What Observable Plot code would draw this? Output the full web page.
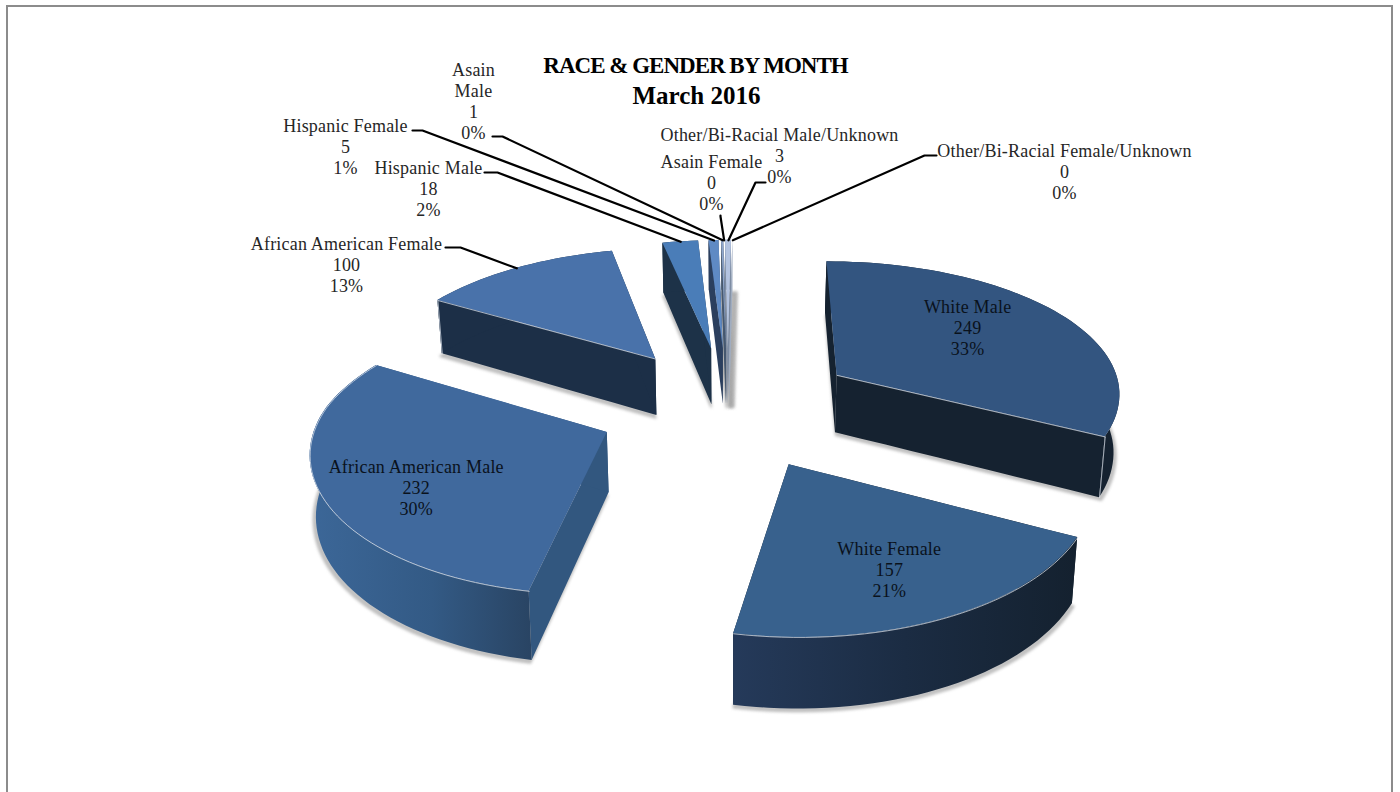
<!DOCTYPE html>
<html><head><meta charset="utf-8">
<script src="https://cdn.jsdelivr.net/npm/d3@7"></script>
<script src="https://cdn.jsdelivr.net/npm/@observablehq/plot@0.6"></script>
<style>
html,body{margin:0;background:#fff}
svg{display:block}
.lbl text{letter-spacing:.2px}
.ttl text{letter-spacing:-1px}
</style></head><body><div id="chart"></div>
<script>
const categories = ["White Male","White Female","African American Male","African American Female","Hispanic Male","Hispanic Female","Asain Male","Asain Female","Other/Bi-Racial Male/Unknown","Other/Bi-Racial Female/Unknown"];
const counts = [249,157,232,100,18,5,1,0,3,0];
const percents = [33,21,30,13,2,1,0,0,0,0];
const titleLine1 = "RACE & GENDER BY MONTH";
const titleLine2 = "March 2016";

const topColors = ["#335580","#38618d","#40699d","#4972aa","#4a7db8","#5f8ac4","#8fa6cc","#a4b6d8","#b3c3e0","#c6d2e8"];
const wallColors = ["#152230","#16232f","#32577f","#1c2f47","#1d3248","#2b3f5e","#46586f","#5a6a80","#7d8ca3","#a0adc0"];
const arcFills = ["#152230","url(#wfArc)","url(#aamArc)","#1c2f47","#1d3248","#2b3f5e","#46586f","#5a6a80","#7d8ca3","#a0adc0"];
const paintOrder = [7,6,9,8,5,4,3,0,2,1];

// callout layout: label centre, then the elbow of its leader
const callouts = new Map([
  ["African American Female",{x:346,y:264,from:[445,247],elbow:[460,247]}],
  ["Hispanic Male",{x:428,y:188,from:[484,172],elbow:[497,172]}],
  ["Hispanic Female",{x:345,y:146,from:[412,130],elbow:[422,130]}],
  ["Asain Male",{x:473,y:100,from:[492,136],elbow:[502,136]}],
  ["Asain Female",{x:711,y:182,from:[720,215],elbow:[720,216]}],
  ["Other/Bi-Racial Male/Unknown",{x:779,y:155,from:[765,182],elbow:[755,182]}],
  ["Other/Bi-Racial Female/Unknown",{x:1064,y:171,from:[936,155],elbow:[924,155]}]
]);
// labels inside a slice: radius and angle offset from the slice's bisector
const insideLabels = new Map([
  ["White Male",{r:0.64,turn:-0.12}],
  ["White Female",{r:0.7,turn:0.03}],
  ["African American Male",{r:0.71,turn:-0.12}]
]);

// pie geometry: a perspective view of an exploded unit pie
const view = {cx:728,cy:406,R:287,B:135,D:8,H:59,explode:0.455,shrink:0.985};
const total = d3.sum(counts);
const rad = d => d*Math.PI/180;
function topPt(X,Y){
  const s=1/(1-Y/view.D);
  const skew=Y>0?Y*(2-3*X):(X>0?4*X*(-Y):3*(-Y));
  return [view.cx+view.R*X*s+skew,view.cy+view.B*Y*s];
}
function botPt(X,Y){const s=1/(1-Y/view.D);const [x,y]=topPt(X,Y);return [view.cx+(x-view.cx)*view.shrink,y+view.H*s];}

let acc=0;
const slices = categories.map((name,i)=>{
  const a0=acc/total*2*Math.PI; acc+=counts[i]; const a1=acc/total*2*Math.PI; const m=(a0+a1)/2;
  const tx=view.explode*Math.sin(m), ty=-view.explode*Math.cos(m);
  const pt=(r,a)=>[tx+r*Math.sin(a),ty-r*Math.cos(a)];
  const n=Math.max(2,Math.ceil((a1-a0)/rad(2)));
  const arc=d3.range(n+1).map(k=>pt(1,a0+(a1-a0)*k/n));
  return {name,i,a0,a1,m,tip:[tx,ty],pt,arc};
});
const band=(pts,f,g)=>pts.map(p=>{const [x1,y1]=f(p),[x2,y2]=g(p);return {x1,y1,x2,y2};});
const surf=(rows,fill,extra={})=>Plot.area(rows,{x1:"x1",y1:"y1",x2:"x2",y2:"y2",fill,curve:"linear",...extra});
const P=f=>p=>f(p[0],p[1]);
const segment=(s,q)=>d3.range(11).map(k=>[s.tip[0]+(q[0]-s.tip[0])*k/10,s.tip[1]+(q[1]-s.tip[1])*k/10]);

const shadowMarks=[],bodyMarks=[];
for(const idx of paintOrder){
  const s=slices[idx];
  const tiny=counts[idx]<10;
  const out=p=>{const [x,y]=botPt(p[0],p[1]);return [view.cx+(x-view.cx)*1.006+(tiny?4:0),y+3];};
  shadowMarks.push(surf(band(s.arc,()=>out(s.tip),out),"#8a8a8a",{fillOpacity:0.5,stroke:"#8a8a8a",strokeWidth:tiny?3:1.5,strokeOpacity:0.5,imageFilter:"blur(1.5px)"}));
  const qs=s.arc[0],qe=s.arc[s.arc.length-1];
  const wallCol=wallColors[idx];
  bodyMarks.push(surf(band(segment(s,qs),P(topPt),P(botPt)),wallCol));
  bodyMarks.push(surf(band(segment(s,qe),P(topPt),P(botPt)),wallCol));
  bodyMarks.push(surf(band(s.arc,P(topPt),P(botPt)),arcFills[idx]));
  bodyMarks.push(surf(band(s.arc,()=>topPt(...s.tip),P(topPt)),topColors[idx]));
  const edge={stroke:"#d8dfe8",strokeWidth:1,strokeOpacity:0.75,curve:"linear"};
  const line=pts=>Plot.line(pts,{x:d=>d[0],y:d=>d[1],...edge});
  if(counts[idx]>=100){
    if(Math.cos(s.m)<0) bodyMarks.push(line(s.arc.map(p=>topPt(...p))));
    if(-Math.cos(s.a0-Math.PI/2)>0.2){bodyMarks.push(line([topPt(...s.tip),topPt(...qs)]));bodyMarks.push(line([topPt(...qs),botPt(...qs)]));}
    if(-Math.cos(s.a1+Math.PI/2)>0.2){bodyMarks.push(line([topPt(...s.tip),topPt(...qe)]));bodyMarks.push(line([topPt(...qe),botPt(...qe)]));}
  }
}

const labelText=s=>{
  const nm=s.name==="Asain Male"?"Asain\nMale":s.name;
  return `${nm}\n${counts[s.i]}\n${percents[s.i]}%`;
};
const inner=slices.filter(s=>insideLabels.has(s.name)).map(s=>{
  const l=insideLabels.get(s.name);
  const [x,y]=topPt(...s.pt(l.r,s.m+l.turn));return {x,y,text:labelText(s)};});
const outer=slices.filter(s=>callouts.has(s.name)).map(s=>{
  const c=callouts.get(s.name);return {x:c.x,y:c.y,text:labelText(s)};});
const leaders=slices.filter(s=>callouts.has(s.name)).flatMap(s=>{
  const c=callouts.get(s.name);const e=topPt(...s.pt(1,s.m));
  return [c.from,c.elbow,e].map(p=>({name:s.name,x:p[0],y:p[1]}));});

const font="Liberation Serif";
const defs=()=>{
  const d=d3.create("svg:defs");
  const grad=(id,stops)=>{const g=d.append("linearGradient").attr("id",id);
    stops.forEach(([o,c])=>g.append("stop").attr("offset",o).attr("stop-color",c));};
  grad("wfArc",[[0,"#253a5a"],[0.5,"#1b2c43"],[1,"#14212f"]]);
  grad("aamArc",[[0,"#3c6798"],[0.55,"#335a85"],[1,"#294463"]]);
  return d.node();
};

const chart=Plot.plot({
  width:1400,height:792,margin:0,
  x:{domain:[0,1400],range:[0,1400],axis:null},
  y:{domain:[0,792],range:[0,792],axis:null},
  style:{background:"#fff"},
  marks:[
    defs,
    Plot.rect([{x1:7,x2:1392,y1:6,y2:800}],{x1:"x1",x2:"x2",y1:"y1",y2:"y2",fill:"none",stroke:"#8c8c8c",strokeWidth:2}),
    ...shadowMarks,
    ...bodyMarks,
    Plot.line(leaders,{x:"x",y:"y",z:"name",stroke:"#000",strokeWidth:2.2,curve:"linear"}),
    Plot.text(outer,{x:"x",y:"y",text:"text",fontFamily:font,fontSize:18,lineHeight:1.167,fill:"#262626",textAnchor:"middle",className:"lbl"}),
    Plot.text(inner,{x:"x",y:"y",text:"text",fontFamily:font,fontSize:18,lineHeight:1.167,fill:"#0a121c",textAnchor:"middle",className:"lbl"}),
    Plot.text([{x:695,y:65,text:titleLine1}],{x:"x",y:"y",text:"text",fontFamily:font,fontSize:23,fontWeight:"bold",fill:"#000",textAnchor:"middle",className:"ttl"}),
    Plot.text([{x:696,y:95,text:titleLine2}],{x:"x",y:"y",text:"text",fontFamily:font,fontSize:25,fontWeight:"bold",fill:"#000",textAnchor:"middle"})
  ]
});
document.getElementById("chart").append(chart);
</script></body></html>
